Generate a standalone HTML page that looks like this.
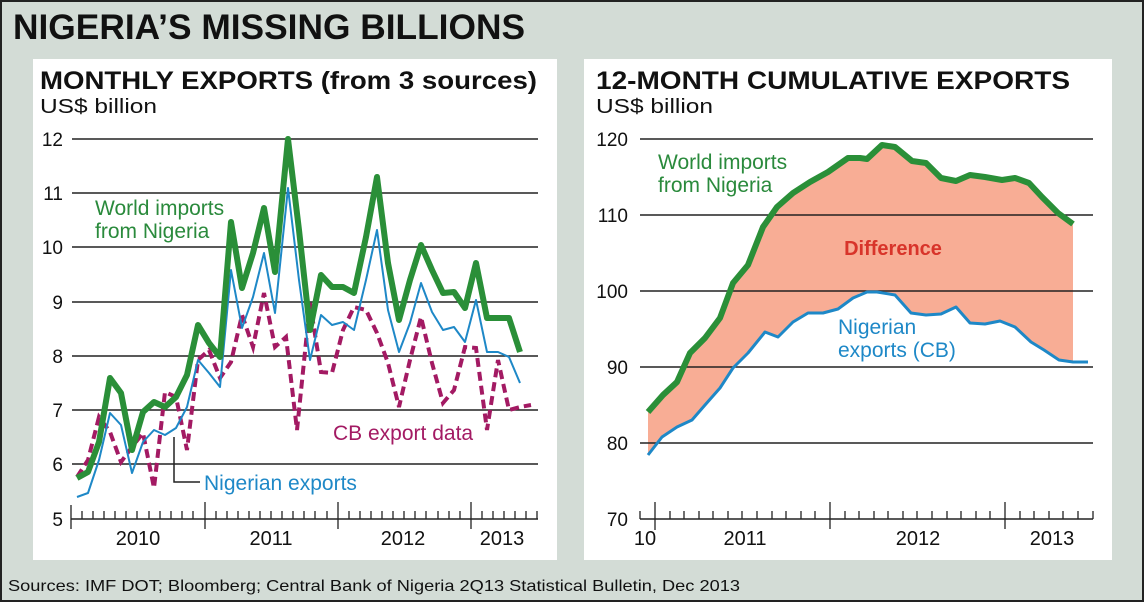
<!DOCTYPE html>
<html><head><meta charset="utf-8"><style>
html,body{margin:0;padding:0;background:#d3dcd6}
svg{display:block}
text{font-family:"Liberation Sans",Arial,sans-serif}
</style></head><body>
<svg width="1144" height="602" viewBox="0 0 1144 602" xmlns="http://www.w3.org/2000/svg">
<rect x="0" y="0" width="1144" height="602" fill="#d3dcd6"/>
<rect x="1" y="1" width="1142" height="600" fill="none" stroke="#222" stroke-width="2"/>
<text x="13" y="39" font-size="35" font-weight="bold" fill="#111" textLength="512" lengthAdjust="spacingAndGlyphs">NIGERIA’S MISSING BILLIONS</text>

<!-- left panel -->
<rect x="33" y="59" width="524" height="501" fill="#fff"/>
<text x="40" y="89" font-size="25" font-weight="bold" fill="#111" textLength="497" lengthAdjust="spacingAndGlyphs">MONTHLY EXPORTS (from 3 sources)</text>
<text x="40" y="113" font-size="20" fill="#111" textLength="117" lengthAdjust="spacingAndGlyphs">US$ billion</text>
<g stroke="#222" stroke-width="1.5">
<line x1="72" y1="139" x2="538" y2="139"/><line x1="72" y1="193" x2="538" y2="193"/><line x1="72" y1="247" x2="538" y2="247"/><line x1="72" y1="302" x2="538" y2="302"/><line x1="72" y1="356" x2="538" y2="356"/><line x1="72" y1="410" x2="538" y2="410"/><line x1="72" y1="464" x2="538" y2="464"/><line x1="71" y1="519" x2="538" y2="519"/>
</g>
<g font-size="19" fill="#111" text-anchor="end">
<text x="63" y="146">12</text><text x="63" y="200">11</text><text x="63" y="254">10</text><text x="63" y="309">9</text><text x="63" y="363">8</text><text x="63" y="417">7</text><text x="63" y="471">6</text><text x="63" y="526">5</text>
</g>
<g stroke="#222" stroke-width="1.3">
<path d="M82 511V519M93 511V519M104 511V519M115 511V519M126 511V519M137 511V519M149 511V519M160 511V519M171 511V519M182 511V519M193 511V519M216 511V519M227 511V519M238 511V519M249 511V519M260 511V519M271 511V519M282 511V519M293 511V519M304 511V519M315 511V519M327 511V519M349 511V519M360 511V519M371 511V519M382 511V519M393 511V519M404 511V519M415 511V519M426 511V519M438 511V519M449 511V519M460 511V519M482 511V519M493 511V519M504 511V519M515 511V519M526 511V519M537 511V519"/>
<path d="M71 505V529M205 502V529M338 502V529M471 502V529"/>
</g>
<g font-size="20" fill="#111" text-anchor="middle">
<text x="138" y="545">2010</text><text x="271" y="545">2011</text><text x="403" y="545">2012</text><text x="502" y="545">2013</text>
</g>
<polyline fill="none" stroke="#a31a63" stroke-width="4" stroke-dasharray="9,5" points="77,477 88,460 99,417 110,432 121,462 132,447 143,433 154,488 165,392 176,397 187,450 198,360 209,350 220,378 231,362 242,315 253,347 264,293 275,347 286,337 297,430 310,303 321,372 332,373 343,330 354,307 366,310 377,333 388,363 399,407 410,360 421,317 432,363 443,403 454,390 465,347 476,348 487,430 498,360 509,410 520,407 531,405"/>
<polyline fill="none" stroke="#1e88c7" stroke-width="2" stroke-linejoin="round" points="77,497 88,493 99,460 110,413 121,425 132,473 143,442 154,430 165,435 176,428 187,407 198,360 209,373 220,387 231,270 242,328 253,297 264,253 275,313 288,188 299,280 310,360 321,315 332,325 343,322 354,330 366,280 377,230 388,310 399,352 410,323 421,283 432,312 443,330 454,327 465,342 476,300 487,352 498,352 509,357 520,383"/>
<polyline fill="none" stroke="#2a8f38" stroke-width="6" stroke-linejoin="round" points="77,478 88,472 99,442 110,378 121,393 132,450 143,412 154,402 165,407 176,397 187,375 198,325 209,343 220,357 231,222 242,288 253,253 264,208 275,272 288,139 299,230 310,330 321,275 332,287 343,287 354,293 366,237 377,177 388,263 399,320 410,280 421,245 432,270 443,293 454,292 465,308 476,263 487,318 498,318 509,318 520,352"/>
<text x="95" y="215" font-size="21" fill="#2a8a3c">World imports</text>
<text x="95" y="238" font-size="21" fill="#2a8a3c">from Nigeria</text>
<path d="M174 437V482H200" fill="none" stroke="#222" stroke-width="1.5"/>
<text x="204" y="490" font-size="21" fill="#1e88c7">Nigerian exports</text>
<text x="333" y="440" font-size="21" fill="#a31a63">CB export data</text>

<!-- right panel -->
<rect x="584" y="59" width="528" height="501" fill="#fff"/>
<text x="596" y="89" font-size="25" font-weight="bold" fill="#111" textLength="474" lengthAdjust="spacingAndGlyphs">12-MONTH CUMULATIVE EXPORTS</text>
<text x="596" y="113" font-size="20" fill="#111" textLength="117" lengthAdjust="spacingAndGlyphs">US$ billion</text>
<polygon fill="#f8ad95" points="648,412 663,395 677,382 690,353 705,338 720,318 733,283 748,265 763,227 777,207 793,193 810,182 828,172 848,158 860,158 867,159 882,145 895,147 912,161 926,163 941,178 956,181 970,175 985,177 1002,180 1015,178 1029,183 1042,197 1058,213 1073,224 1073,362 1059,360 1044,350 1031,342 1015,327 1000,321 985,324 970,323 956,307 941,314 926,315 911,313 895,295 877,292 860,293 853,298 838,309 823,313 808,313 793,322 778,337 765,332 748,353 733,368 720,388 705,405 692,420 677,427 662,437 648,455"/>
<g stroke="#222" stroke-width="1.5">
<line x1="640" y1="139" x2="1093" y2="139"/><line x1="640" y1="215" x2="1093" y2="215"/><line x1="640" y1="291" x2="1093" y2="291"/><line x1="640" y1="367" x2="1093" y2="367"/><line x1="640" y1="443" x2="1093" y2="443"/><line x1="640" y1="519" x2="1093" y2="519"/>
</g>
<g font-size="19" fill="#111" text-anchor="end">
<text x="628" y="146">120</text><text x="628" y="222">110</text><text x="628" y="298">100</text><text x="628" y="374">90</text><text x="628" y="450">80</text><text x="628" y="526">70</text>
</g>
<g stroke="#222" stroke-width="1.3">
<path d="M640 511V519M670 511V519M684 511V519M699 511V519M713 511V519M728 511V519M742 511V519M757 511V519M772 511V519M786 511V519M801 511V519M815 511V519M845 511V519M859 511V519M874 511V519M888 511V519M903 511V519M917 511V519M932 511V519M947 511V519M961 511V519M976 511V519M990 511V519M1020 511V519M1034 511V519M1049 511V519M1063 511V519M1078 511V519M1093 511V519"/>
<path d="M655 502V530M830 502V529M1005 502V529"/>
</g>
<g font-size="20" fill="#111" text-anchor="middle">
<text x="645" y="545">10</text><text x="745" y="545">2011</text><text x="918" y="545">2012</text><text x="1052" y="545">2013</text>
</g>
<polyline fill="none" stroke="#1e88c7" stroke-width="3" stroke-linejoin="round" points="648,455 662,437 677,427 692,420 705,405 720,388 733,368 748,353 765,332 778,337 793,322 808,313 823,313 838,309 853,298 867,292 877,292 895,295 911,313 926,315 941,314 956,307 970,323 985,324 1000,321 1015,327 1031,342 1044,350 1059,360 1073,362 1088,362"/>
<polyline fill="none" stroke="#2a8f38" stroke-width="6" stroke-linejoin="round" points="648,412 663,395 677,382 690,353 705,338 720,318 733,283 748,265 763,227 777,207 793,193 810,182 828,172 848,158 860,158 867,159 882,145 895,147 912,161 926,163 941,178 956,181 970,175 985,177 1002,180 1015,178 1029,183 1042,197 1058,213 1073,224"/>
<text x="658" y="169" font-size="21" fill="#2a8a3c">World imports</text>
<text x="658" y="192" font-size="21" fill="#2a8a3c">from Nigeria</text>
<text x="893" y="255" font-size="20" font-weight="bold" fill="#d8342a" text-anchor="middle">Difference</text>
<text x="838" y="334" font-size="21" fill="#1e88c7">Nigerian</text>
<text x="838" y="357" font-size="21" fill="#1e88c7">exports (CB)</text>

<text x="8" y="591" font-size="16" fill="#111" textLength="732" lengthAdjust="spacingAndGlyphs">Sources: IMF DOT; Bloomberg; Central Bank of Nigeria 2Q13 Statistical Bulletin, Dec 2013</text>
</svg>
</body></html>
